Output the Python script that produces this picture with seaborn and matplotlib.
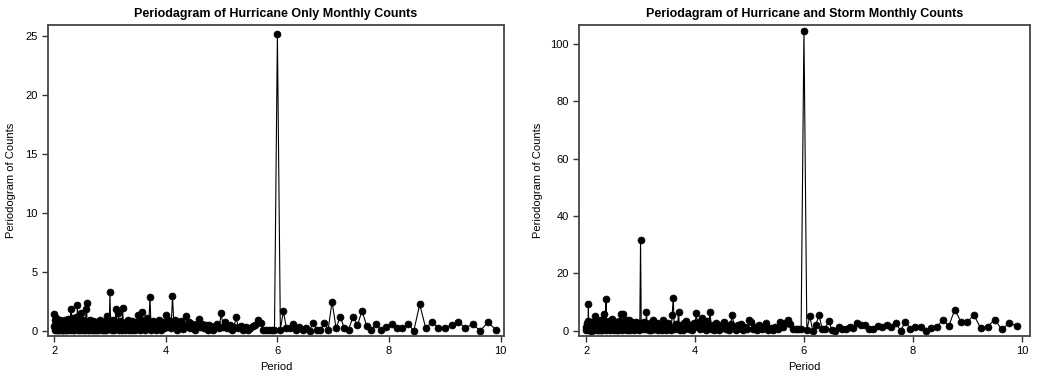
import numpy as np
import pandas as pd
import matplotlib
matplotlib.use("Agg")
import matplotlib.pyplot as plt
import seaborn as sns

# Fourier periods: record length (months) divided by harmonic index
n_months = 684
harmonics = np.arange(342, 68, -1)

# ---- Hurricane only periodogram ordinates (ascending period) ----
hur_a = [0.4, 1.4, 0.2, 0.9, 0.1, 0.6, 0.3, 1.1, 0.05, 0.5,
         0.2, 0.8, 0.1, 0.4, 0.7, 0.15, 0.3, 0.9, 0.05, 0.5,
         0.25, 0.6, 0.1, 0.8, 0.35, 0.05, 0.7, 0.2, 0.45, 0.1,
         0.9, 0.3, 0.05, 0.6, 0.2, 0.75, 0.1, 0.4, 1.0, 0.15,
         0.5, 0.3, 0.8, 0.05, 0.6, 1.8, 0.2, 0.4, 1.1, 0.1,
         0.7, 0.3, 0.05, 0.9, 0.2, 0.5, 1.2]
hur_b = [0.3, 0.8, 2.15, 0.1, 0.6, 0.2, 1.0, 0.4, 0.05, 0.7,
         1.47, 0.2, 0.5, 0.9, 0.1, 0.35, 0.6, 0.05, 0.8, 1.8,
         2.37, 0.3, 0.1, 0.7, 0.4, 0.05, 0.9, 0.2, 0.6, 0.3,
         0.1, 0.8, 0.45, 0.05, 0.6, 0.2, 0.7, 0.1, 0.5, 0.3,
         0.05, 0.6, 0.9, 0.2, 0.4, 0.1, 0.7, 0.3, 0.05, 0.5,
         0.2, 0.8, 0.1, 1.24, 0.3, 0.6, 0.15]
hur_c = [3.3, 0.2, 0.6, 0.1, 0.9, 0.3, 0.05, 0.7, 1.86, 0.2,
         0.5, 1.47, 0.1, 0.8, 0.3, 0.05, 1.92, 0.4, 0.6, 0.1,
         0.7, 0.25, 0.9, 0.05, 0.5, 0.3, 0.8, 0.1, 0.4, 0.6,
         0.05, 0.7, 0.2, 1.33, 0.4, 0.1, 0.9, 1.6, 0.3, 0.05,
         0.6, 1.05, 0.2, 0.7, 2.88, 0.1, 0.5, 0.8, 0.2, 0.05,
         0.6, 0.3, 0.9, 0.1, 0.4, 0.7, 0.2]
hur_d = [1.33, 0.3, 0.9, 0.5, 0.2, 2.9, 0.6, 0.9, 0.1, 0.7,
         0.3, 0.8, 0.15, 0.5, 1.24, 0.4, 0.7, 0.2, 0.6, 0.35,
         0.1, 0.55, 0.96, 0.3, 0.6, 0.2, 0.45, 0.1, 0.5, 0.3,
         0.05, 0.4, 0.6, 0.2, 1.47, 0.3, 0.7, 0.2, 0.5, 0.1,
         0.35, 1.13, 0.2, 0.4, 0.1, 0.3, 0.05, 0.25, 0.4, 0.48,
         0.9, 0.62, 0.1, 0.05, 0.05, 0.1, 0.05]
hur_e = [25.1,
         0.1, 1.67, 0.2, 0.2, 0.54, 0.05, 0.3, 0.1, 0.25, 0.0,
         0.68, 0.05, 0.05, 0.68, 0.1, 2.46,
         0.2, 1.19, 0.2, 0.1, 1.19, 0.48, 1.67, 0.4, 0.05, 0.56,
         0.05, 0.3,
         0.56, 0.2, 0.2, 0.56, 0.0, 2.23, 0.2, 0.76, 0.25, 0.25,
         0.48, 0.7, 0.25, 0.54, 0.0, 0.7, 0.1]

# ---- Hurricane and storm periodogram ordinates (ascending period) ----
hs_a = [1.5, 0.3, 2.8, 0.8, 1.2, 3.5, 0.5, 9.3, 1.0, 2.2,
        0.2, 1.8, 3.0, 0.6, 1.4, 2.5, 0.1, 1.0, 3.2, 0.7,
        2.0, 0.4, 1.6, 2.7, 0.3, 5.1, 1.2, 0.5, 2.4, 1.0,
        0.2, 2.9, 1.5, 0.6, 3.4, 0.9, 1.8, 0.3, 2.6, 1.1,
        0.4, 3.8, 0.7, 1.9, 0.2, 2.3, 4.2, 1.0, 6.0, 0.5,
        2.1, 1.3, 0.4, 11.1, 1.6, 3.0, 0.6]
hs_b = [2.4, 0.8, 1.5, 3.3, 0.2, 1.9, 2.8, 0.6, 1.2, 4.0,
        0.9, 2.2, 0.3, 1.7, 3.1, 0.5, 2.0, 1.1, 0.4, 2.7,
        1.4, 0.2, 3.5, 1.0, 2.3, 0.7, 6.0, 1.6, 0.3, 2.9,
        6.0, 1.2, 0.5, 2.1, 3.6, 0.8, 1.5, 0.2, 2.6, 3.7,
        1.0, 0.4, 2.2, 1.7, 0.6, 3.0, 1.3, 0.2, 2.5, 0.9,
        1.8, 3.2, 0.5, 1.4, 2.0, 0.3, 2.7]
hs_c = [31.5, 1.0, 2.4, 0.5, 1.8, 3.0, 0.7, 1.3, 6.6, 0.9,
        2.2, 0.4, 1.6, 2.8, 0.2, 1.2, 3.9, 0.8, 2.0, 0.5,
        1.5, 2.6, 0.3, 1.1, 2.3, 0.6, 1.8, 0.2, 3.9, 1.0,
        2.4, 0.4, 1.7, 2.9, 0.6, 1.3, 0.3, 5.6, 11.6, 1.5,
        0.7, 2.5, 1.1, 6.5, 0.4, 2.0, 1.4, 0.2, 2.8, 0.9,
        3.4, 1.2, 0.5, 2.2, 1.6, 0.3, 2.6]
hs_d = [2.0, 6.3, 1.5, 3.0, 0.5, 4.3, 1.0, 2.5, 0.3, 3.5,
        1.2, 6.5, 0.8, 2.0, 0.4, 2.8, 1.5, 0.2, 2.2, 1.0,
        3.1, 0.5, 1.8, 0.3, 2.5, 5.5, 1.2, 0.4, 2.0, 1.0,
        2.5, 0.3, 1.5, 0.6, 3.7, 3.1, 0.8, 1.5, 0.3, 2.0,
        0.6, 1.2, 2.6, 0.4, 1.0, 0.3, 1.4, 0.8, 3.1, 1.4,
        2.6, 3.7, 2.3, 0.8, 0.8, 0.5, 0.8]
hs_e = [104.5,
        0.2, 5.1, 0.0, 2.0, 5.5, 0.8, 0.8, 3.5, 0.2, 0.0,
        1.4, 0.8, 0.8, 1.4, 1.0, 2.9,
        2.0, 2.2, 0.5, 0.8, 1.6, 1.4, 2.0, 1.2, 2.9, 0.0,
        3.1, 0.8,
        1.4, 1.4, 0.0, 1.0, 1.4, 3.9, 1.6, 7.4, 3.1, 3.1,
        5.5, 1.0, 1.4, 3.9, 0.5, 2.8, 1.6]

titles = ["Periodagram of Hurricane Only Monthly Counts",
          "Periodagram of Hurricane and Storm Monthly Counts"]
x_label = "Period"
y_label = "Periodogram of Counts"
x_ticks = [2, 4, 6, 8, 10]
y_ticks_left = [0, 5, 10, 15, 20, 25]
y_ticks_right = [0, 20, 40, 60, 80, 100]

periods = n_months / harmonics
hur = np.array(hur_a + hur_b + hur_c + hur_d + hur_e)
hs = np.array(hs_a + hs_b + hs_c + hs_d + hs_e)

sns.set_theme(style="white")
plt.rcParams['font.family'] = ['Liberation Sans', 'DejaVu Sans']
plt.rcParams['text.color'] = 'black'
plt.rcParams['axes.labelcolor'] = 'black'
plt.rcParams['xtick.color'] = 'black'
plt.rcParams['ytick.color'] = 'black'

fig = plt.figure(figsize=(10.39, 3.76), dpi=100)
ax1 = fig.add_axes([48/1039, 40/376, 456/1039, 311/376])
ax2 = fig.add_axes([579/1039, 40/376, 451/1039, 311/376])

panels = [(ax1, hur, titles[0], y_ticks_left, (-0.45, 25.9), (1.89, 10.06)),
          (ax2, hs, titles[1], y_ticks_right, (-1.8, 106.5), (1.87, 10.15))]

for ax, vals, title, yt, ylim, xlim in panels:
    df = pd.DataFrame({"period": periods, "value": vals})
    sns.lineplot(data=df, x="period", y="value", ax=ax, sort=False,
                 estimator=None, color="black", linewidth=0.8,
                 marker="o", markersize=5, markeredgecolor="black",
                 markeredgewidth=0.5)
    ax.set_xlim(*xlim)
    ax.set_ylim(*ylim)
    ax.set_xticks(x_ticks)
    ax.set_yticks(yt)
    ax.set_title(title, fontsize=9, fontweight="bold", pad=6, color="black")
    ax.set_xlabel(x_label, fontsize=8, color="black")
    ax.set_ylabel(y_label, fontsize=8, color="black")
    ax.tick_params(axis="both", labelsize=8, direction="out", length=4,
                   width=1, color="#333333", labelcolor="black",
                   bottom=True, left=True)
    for sp in ax.spines.values():
        sp.set_color("#444444")
        sp.set_linewidth(1.3)

ax1.yaxis.set_label_coords(-0.07, 0.5)
ax2.yaxis.set_label_coords(-0.08, 0.5)

fig.savefig("out.png", dpi=100)
